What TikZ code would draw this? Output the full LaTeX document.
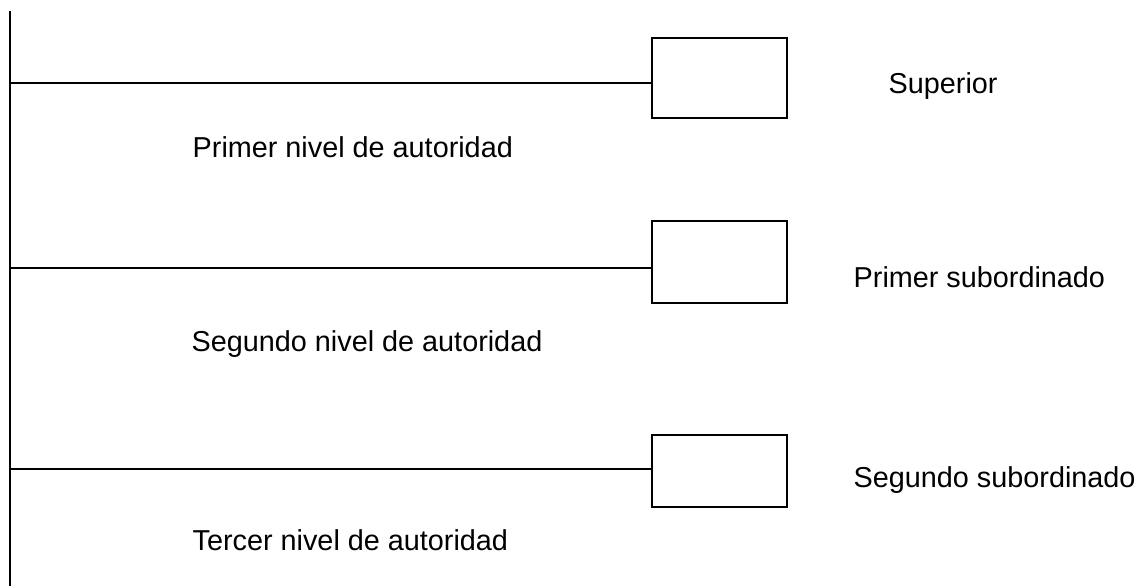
\documentclass[tikz,border=0pt]{standalone}
\usepackage{fontspec}
\setmainfont{Liberation Sans}
\usepackage{tikz}
\usetikzlibrary{positioning}
\tikzset{levelbox/.style={draw, line width=0.8pt, minimum width=67.5pt, inner sep=0pt},
         lbl/.style={anchor=base west, inner sep=0pt, font=\fontsize{14.4}{17}\selectfont}}

\begin{document}
\begin{tikzpicture}[black, x=0.5pt, y=-0.5pt, line width=0.7pt]
            \useasboundingbox (0,0) rectangle (1144,586);

            %spine
            \coordinate (top) at (10,11);
            \coordinate (bottom) at (10,586);
            \draw (top) -- (bottom);

            %superior
            \node[levelbox, minimum height=40pt] (sup) at (719.5,78) {};
            \coordinate (s1) at (10,83);
            \draw (s1) -- (s1 -| sup.west);
            \node[lbl] (supname) at (888,93) {Superior};
            \node[lbl] (lev1) at (192,157) {Primer nivel de autoridad};

            %primer subordinado
            \node[levelbox, minimum height=41pt] (sub1) at (719.5,262) {};
            \coordinate (s2) at (10,268);
            \draw (s2) -- (s2 -| sub1.west);
            \node[lbl] (sub1name) at (853,287) {Primer subordinado};
            \node[lbl] (lev2) at (191,351) {Segundo nivel de autoridad};

            %segundo subordinado
            \node[levelbox, minimum height=36pt] (sub2) at (719.5,471) {};
            \coordinate (s3) at (10,469);
            \draw[line width=1pt] (s3) -- (s3 -| sub2.west);
            \node[lbl] (sub2name) at (853,487) {Segundo subordinado};
            \node[lbl] (lev3) at (192,550) {Tercer nivel de autoridad};

        \end{tikzpicture}
\end{document}
